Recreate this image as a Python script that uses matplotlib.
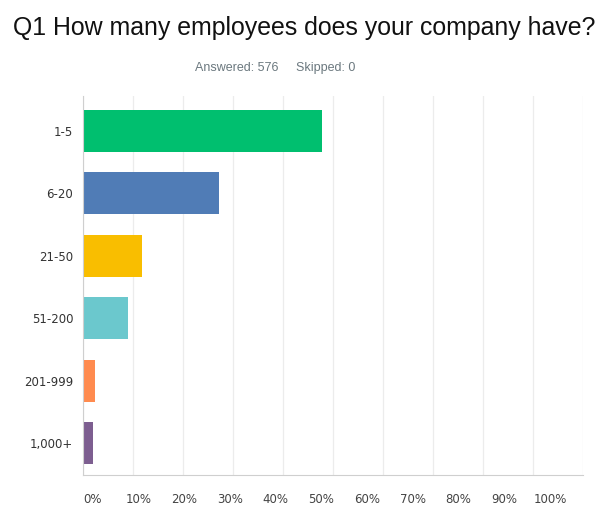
import matplotlib
matplotlib.use("Agg")
import matplotlib.pyplot as plt
import numpy as np

categories = ["1-5", "6-20", "21-50", "51-200", "201-999", "1,000+"]
values = [47.7, 27.1, 11.8, 9.0, 2.4, 1.9]
colors = ["#00BF6F", "#507CB6", "#F9BE00", "#6BC8CD", "#FF8B4F", "#7D5E90"]
grid_ticks = list(range(0, 101, 10))
tick_labels = [f"{t}%" for t in grid_ticks]
title = "Q1 How many employees does your company have?"
subtitle = "Answered: 576     Skipped: 0"

fig = plt.figure(figsize=(6.0, 5.13), dpi=100)
ax = fig.add_axes([83/600, 1-475/513, 500/600, 379/513])

y = np.arange(len(categories))
ax.barh(y, values, height=0.67, color=colors, zorder=3)
ax.set_xlim(0, 100)
ax.set_ylim(5.51, -0.56)

# gridlines at true positions
ax.set_xticks(grid_ticks, minor=True)
ax.grid(which="minor", axis="x", color="#ececec", linewidth=0.9, zorder=0)
ax.tick_params(which="minor", length=0)
# labels spread evenly as in reference
label_pos = np.linspace(2.0, 93.4, len(grid_ticks))
ax.set_xticks(label_pos)
ax.set_xticklabels(tick_labels, fontsize=8.5, color="#444444", family="DejaVu Sans")
ax.tick_params(axis="x", which="major", length=0, pad=13)

ax.set_yticks(y)
ax.set_yticklabels(categories, fontsize=8.5, color="#333333", family="DejaVu Sans")
ax.tick_params(axis="y", length=0, pad=7)

for s in ["top", "right"]:
    ax.spines[s].set_visible(False)
ax.spines["left"].set_color("#cfcfcf")
ax.spines["bottom"].set_color("#cfcfcf")
ax.spines["left"].set_zorder(4)

fig.text(304/600, 1-28/513, title, ha="center", va="center", fontsize=17.9,
         family="Liberation Sans", color="#111111")
fig.text(275/600, 1-68/513, subtitle, ha="center", va="center", fontsize=9,
         family="Liberation Sans", color="#6b787f")

fig.savefig("out.png", dpi=100, facecolor="white")
